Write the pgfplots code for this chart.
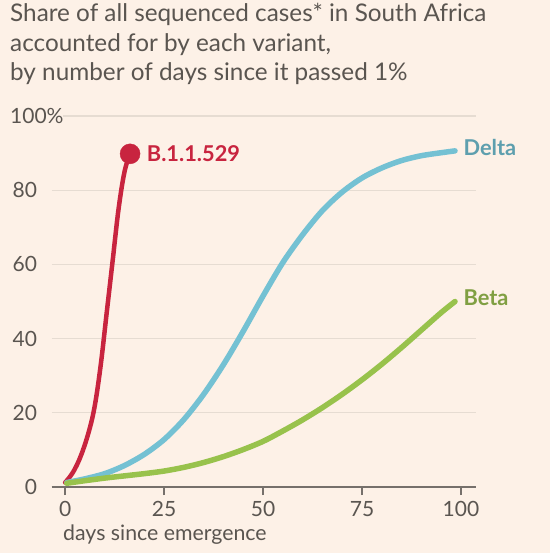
\documentclass[border=0pt]{standalone}
\usepackage{pgfplots}
\pgfplotsset{compat=1.18}
\usepackage{fontspec}
\setmainfont{Lato}
\definecolor{bg}{HTML}{FDF1E7}
\definecolor{txt}{HTML}{5A5550}
\definecolor{gridc}{HTML}{E6DCD2}
\definecolor{axc}{HTML}{76706B}
\definecolor{redc}{HTML}{C8243F}
\definecolor{bluec}{HTML}{74C1D3}
\definecolor{greenc}{HTML}{98C24C}
\definecolor{bluet}{HTML}{5E9FAE}
\definecolor{greent}{HTML}{809F42}
\begin{document}
\begin{tikzpicture}[x=1pt,y=1pt]
\fill[bg] (0,0) rectangle (550,553);
\useasboundingbox (0,0) rectangle (550,553);
\node[anchor=base west, inner sep=0pt, text=txt, font=\fontsize{24.3}{28}\selectfont] at (10,531.3) {Share of all sequenced cases* in South Africa};
\node[anchor=base west, inner sep=0pt, text=txt, font=\fontsize{24.3}{28}\selectfont] at (10,501.3) {accounted for by each variant,};
\node[anchor=base west, inner sep=0pt, text=txt, font=\fontsize{24.3}{28}\selectfont] at (10,472) {by number of days since it passed 1\%};
\begin{axis}[
  at={(51.7pt,66pt)}, anchor=south west,
  scale only axis, width=424.3pt, height=371pt,
  xmin=-3.4, xmax=103.8, ymin=0, ymax=100,
  clip=false,
  separate axis lines,
  axis x line*=bottom, axis y line*=left,
  x axis line style={axc, line width=1.5pt},
  y axis line style={draw=none},
  xtick={0,25,50,75,100},
  ytick={0,20,40,60,80},
  ymajorgrids, grid style={gridc, line width=1.2pt},
  major tick length=8pt,
  xtick style={axc, line width=1.5pt},
  ytick style={draw=none},
  tick align=outside,
  x tick label style={text=txt, font=\fontsize{21}{24}\selectfont, yshift=-3pt},
  y tick label style={text=txt, font=\fontsize{21}{24}\selectfont, anchor=east, inner sep=0pt, xshift=-6.5pt},
  /pgf/number format/assume math mode=true,
  xlabel={days since emergence},
  xlabel style={text=txt, font=\fontsize{21.3}{24}\selectfont, anchor=base west, at={(axis description cs:0,0)}, xshift=8pt, yshift=-53pt},
]
\draw[gridc, line width=1.2pt] (axis cs:-0.6,100) -- (axis cs:103.8,100);
\addplot[redc, line width=4.5pt, line cap=round, line join=round, smooth, tension=0.6] coordinates {
(0,1.2) (2,4) (4,8.5) (6,15) (7.5,22) (9,33) (10.5,47) (12,61) (13.5,75) (15,85) (16.4,89.8)
};
\addplot[only marks, mark=*, mark size=10pt, redc, mark options={draw=redc, fill=redc}] coordinates {(16.4,89.8)};
\addplot[bluec, line width=5.5pt, line cap=round, line join=round, smooth] coordinates {
(0.4,1.2) (5,2.2) (10,3.6) (15,5.8) (20,8.8) (25,12.8) (30,18.2) (35,25) (40,33) (45,42) (50,51.5) (55,60.5) (60,68) (65,74.5) (70,79.5) (75,83.3) (80,86) (85,88) (90,89.3) (95,90.1) (98.5,90.6)
};
\addplot[greenc, line width=5.5pt, line cap=round, line join=round, smooth] coordinates {
(0.4,1.0) (5,1.7) (10,2.4) (15,3.0) (20,3.6) (25,4.3) (30,5.3) (35,6.6) (40,8.2) (45,10.1) (50,12.3) (55,15.1) (60,18.1) (65,21.4) (70,25) (75,28.9) (80,33.1) (85,37.6) (90,42.3) (95,47) (98.5,50)
};
\node[anchor=west, inner sep=0pt, text=txt, font=\fontsize{21}{24}\selectfont] at (axis cs:-13.95,100) {100\%};
\node[anchor=west, inner sep=0pt, text=redc, font=\fontsize{21.8}{24}\selectfont\bfseries] at (axis cs:20.6,89.8) {B.1.1.529};
\node[anchor=west, inner sep=0pt, text=bluet, font=\fontsize{21.8}{24}\selectfont\bfseries] at (axis cs:100.6,91.6) {Delta};
\node[anchor=west, inner sep=0pt, text=greent, font=\fontsize{21.8}{24}\selectfont\bfseries] at (axis cs:100.6,51.1) {Beta};
\end{axis}
\end{tikzpicture}
\end{document}
